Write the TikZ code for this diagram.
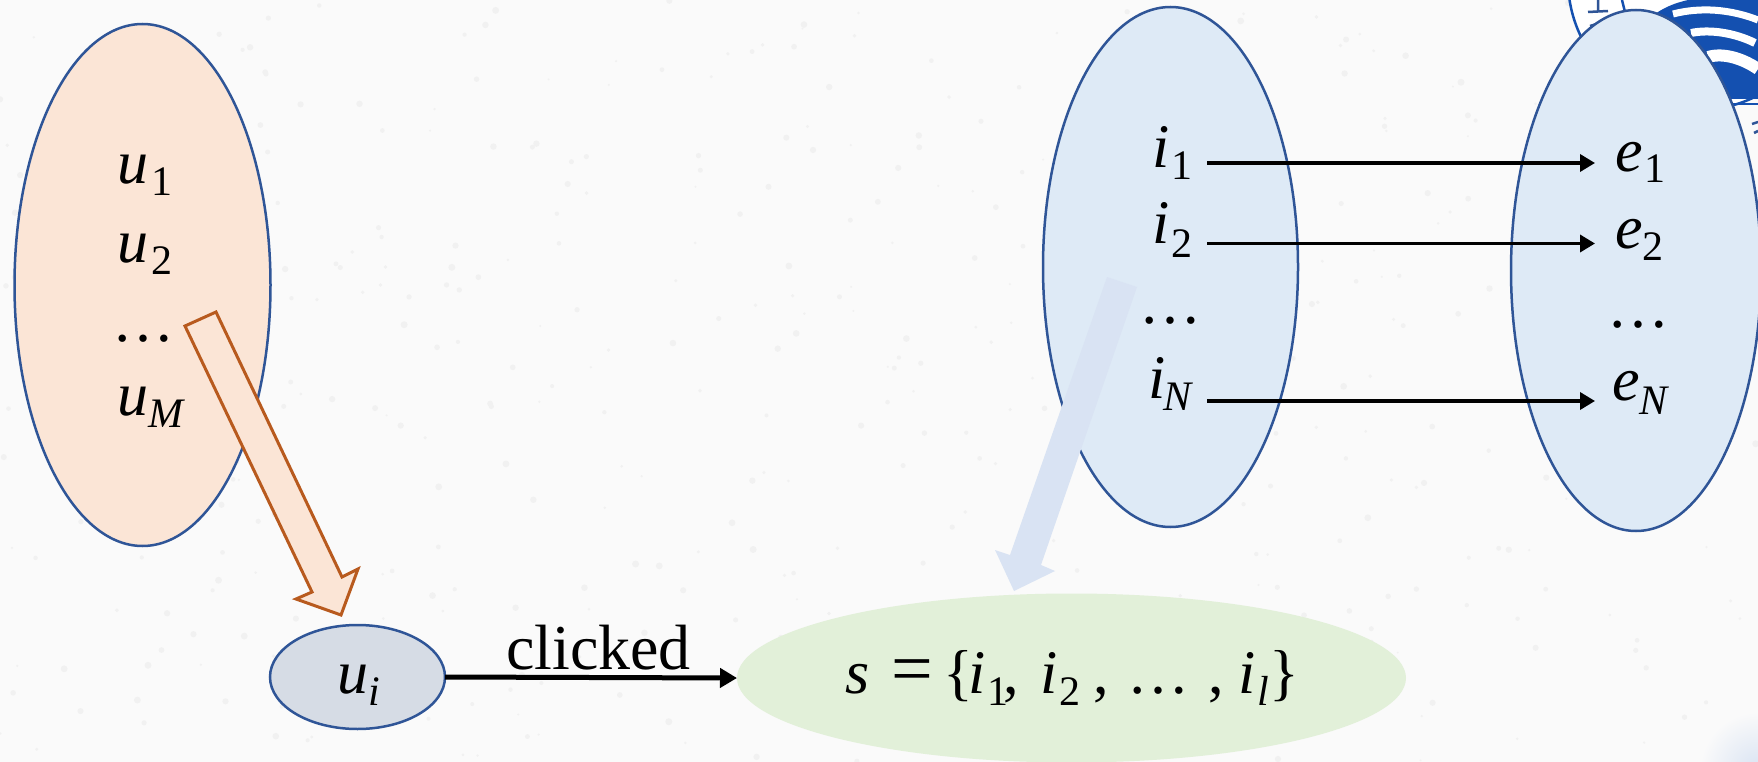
\documentclass[tikz,border=0pt]{standalone}
\usepackage{fontspec}
\setmainfont{Liberation Serif}
\usetikzlibrary{arrows.meta,shapes.geometric}
\definecolor{bgc}{HTML}{FAFAFA}
\definecolor{speck}{HTML}{F1F1F1}
\definecolor{edgeblue}{HTML}{2F5597}
\definecolor{peach}{HTML}{FBE5D6}
\definecolor{paleblue}{HTML}{DEEAF6}
\definecolor{slate}{HTML}{D6DCE5}
\definecolor{palegreen}{HTML}{E2F0D9}
\definecolor{rust}{HTML}{B85A1E}
\definecolor{arrowblue}{HTML}{D9E3F3}
\definecolor{logoblue}{HTML}{1450B0}
\newcommand{\bigf}{\fontsize{62}{62}\selectfont}
\newcommand{\subf}{\fontsize{42}{42}\selectfont}
\newcommand{\vs}[4][12]{\textit{#2}\kern#4pt\raisebox{-#1pt}{\subf #3}}
\newcommand{\vsi}[4][12]{\textit{#2}\kern#4pt\raisebox{-#1pt}{\subf\textit{#3}}}
\newcommand{\putat}[2]{\rlap{\kern#1pt #2}}
\tikzset{
  oval/.style={ellipse,draw=edgeblue,line width=2.5pt,inner sep=0pt,outer sep=0pt},
  lab/.style={anchor=base west,inner sep=0pt,outer sep=0pt,font=\bigf,text=black},
  thinarrow/.style={line width=3.5pt,-{Triangle[length=15pt,width=17pt]}},
  fatarrow/.style={line width=5pt,-{Triangle[length=17pt,width=19pt]}},
  logoline/.style={draw=logoblue,line width=2.5pt},
  whiteband/.style={draw=white,line cap=butt}
}
\begin{document}
\begin{tikzpicture}[x=1pt,y=-1pt]
\path[use as bounding box,fill=bgc] (0,0) rectangle (1758,762);
% paper texture
\pgfmathsetseed{7}
\foreach \n in {1,...,500}{
  \pgfmathsetmacro{\px}{rnd*1758}
  \pgfmathsetmacro{\py}{rnd*762}
  \pgfmathsetmacro{\pr}{1+rnd*2.5}
  \fill[speck] (\px,\py) circle (\pr);
}
% corner tint
\begin{scope}
\clip (1695,700) rectangle (1758,762);
\shade[inner color=arrowblue,outer color=bgc] (1758,770) circle (58);
\end{scope}
% logo behind the right ellipse
\begin{scope}
\clip (0,0) rectangle (1758,762);
\fill[white] (1698,-20) circle (130);
\draw[logoline] (1698,-20) circle (130);
\draw[logoline] (1622,0) -- (1626,16);
\fill[logoblue] (1655,14) .. controls (1665,7) and (1675,3) .. (1688,0) -- (1758,0) -- (1758,99) -- (1730,99) -- (1640,60) -- cycle;
\draw[whiteband,line width=7pt] (1673,14) .. controls (1700,7) and (1730,9) .. (1758,20);
\draw[whiteband,line width=8pt] (1691,33) .. controls (1710,29) and (1735,33) .. (1755,43);
\draw[whiteband,line width=12pt] (1708,57) .. controls (1725,52) and (1745,60) .. (1758,69);
\draw[logoblue,line width=2pt] (1730,104) -- (1758,104);
\draw[edgeblue,line width=2.5pt] (1598,0) -- (1598,11) (1588,12) -- (1608,11) (1590,26) -- (1600,23);
\draw[edgeblue,line width=2.5pt] (1752,124) -- (1758,122) (1754,133) -- (1758,131);
\end{scope}
% ellipses
\node[oval,fill=peach,minimum width=256pt,minimum height=522pt] (users) at (142.5,285) {};
\node[oval,fill=paleblue,minimum width=255pt,minimum height=520pt] (items) at (1170.5,267) {};
\node[oval,fill=paleblue,minimum width=250pt,minimum height=521pt] (ents) at (1636,270.5) {};
\node[oval,fill=slate,minimum width=175pt,minimum height=104pt] (ui) at (357.5,677) {};
\node[ellipse,fill=palegreen,inner sep=0pt,outer sep=0pt,minimum width=669pt,minimum height=169pt] (sess) at (1071.5,678) {};
% block arrows
\fill[arrowblue] (1107,277) -- (1137,287) -- (1041,565) -- (1055,571) -- (1014,591) -- (995,550) -- (1010,555) -- cycle;
\draw[draw=rust,fill=peach,line width=3pt,line join=miter] (185,326) -- (216,312) -- (342,577) -- (358,569) -- (341,615) -- (296,599) -- (312,592) -- cycle;
% labels
\node[lab] (u1) at (117,184) {\vs{u}{1}{3}};
\node[lab] (u2) at (117,262) {\vs{u}{2}{3}};
\node[lab] (ud) at (112,341) {…};
\node[lab] (uM) at (117,415) {\vsi{u}{M}{0}};
\node[lab] (i1) at (1152,168) {\vs{i}{1}{2}};
\node[lab] (i2) at (1152,243) {\vs[14]{i}{2}{2}};
\node[lab] (id) at (1139,323) {…};
\node[lab] (iN) at (1148,398) {\vsi{i}{N}{-2}};
\node[lab] (e1) at (1615,172) {\vs[11]{e}{1}{2}};
\node[lab] (e2) at (1615,248) {\vs{e}{2}{0}};
\node[lab] (ed) at (1607,327) {…};
\node[lab] (eN) at (1612,400) {\vsi[14]{e}{N}{0}};
\node[lab] (uilab) at (337,693) {\vsi{u}{i}{0}};
\node[lab] (slab) at (845,693) {\putat{0}{\textit{s}}\putat{46}{\fontsize{74}{74}\selectfont =}\putat{98}{\{}\putat{123}{\vs{i}{1}{2}}\putat{158}{,}\putat{195}{\vs{i}{2}{2}}\putat{248}{,}\putat{282}{…}\putat{363}{,}\putat{393}{\vsi{i}{l}{2}}\putat{424}{\}}};
\node[lab,font=\fontsize{64}{64}\selectfont] (clk) at (506,669) {clicked};
% connectors
\coordinate (a1) at (1207,163); \coordinate (b1) at (1595,163);
\coordinate (a2) at (1207,243.5); \coordinate (b2) at (1595,243.5);
\coordinate (a3) at (1207,401); \coordinate (b3) at (1595,401);
\draw[thinarrow] (a1) -- (b1);
\draw[thinarrow] (a2) -- (b2);
\draw[thinarrow] (a3) -- (b3);
\draw[fatarrow] (ui.east) -- (sess.west);
\end{tikzpicture}
\end{document}
